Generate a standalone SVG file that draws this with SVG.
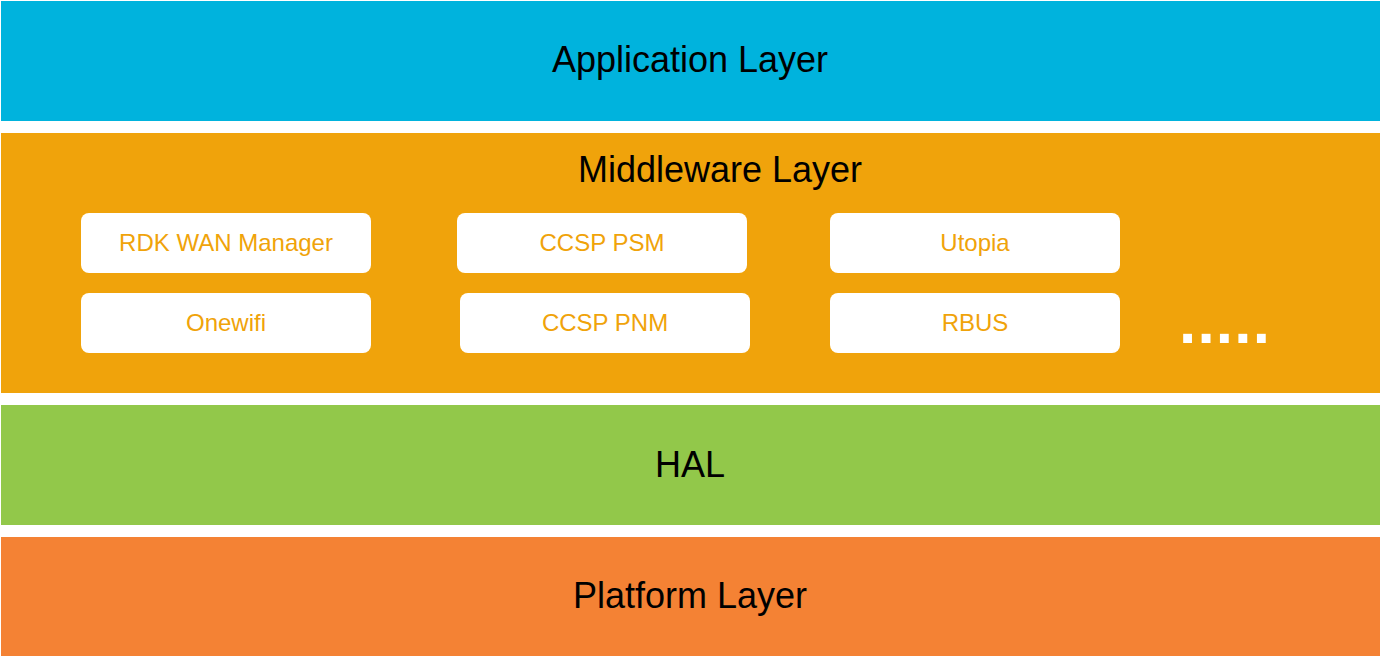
<svg xmlns="http://www.w3.org/2000/svg" width="1380" height="656" viewBox="0 0 1380 656">
<style>
.lbl{font-family:"Liberation Sans",Arial,sans-serif;font-size:36px;fill:#000;text-anchor:middle}
.box{fill:#fff}
.bt{font-family:"Liberation Sans",Arial,sans-serif;font-size:24px;fill:#F0A30A;text-anchor:middle}
</style>
<rect width="1380" height="656" fill="#fff"/>
<g id="app"><rect x="1" y="1" width="1379" height="120" fill="#00B3DD"/><text class="lbl" x="690" y="72">Application Layer</text></g>
<g id="middleware"><rect x="1" y="133" width="1379" height="260" fill="#F0A30B"/><text class="lbl" x="720" y="182">Middleware Layer</text>
<text x="1179" y="343" font-family="Liberation Sans,Arial,sans-serif" font-weight="bold" font-size="62" fill="#fff" letter-spacing="1.2">.....</text></g>
<g id="rdkwan"><rect class="box" x="81" y="213" width="290" height="60" rx="8"/><text class="bt" x="226" y="251">RDK WAN Manager</text></g>
<g id="onewifi"><rect class="box" x="81" y="293" width="290" height="60" rx="8"/><text class="bt" x="226" y="331">Onewifi</text></g>
<g id="psm"><rect class="box" x="457" y="213" width="290" height="60" rx="8"/><text class="bt" x="602" y="251">CCSP PSM</text></g>
<g id="pnm"><rect class="box" x="460" y="293" width="290" height="60" rx="8"/><text class="bt" x="605" y="331">CCSP PNM</text></g>
<g id="utopia"><rect class="box" x="830" y="213" width="290" height="60" rx="8"/><text class="bt" x="975" y="251">Utopia</text></g>
<g id="rbus"><rect class="box" x="830" y="293" width="290" height="60" rx="8"/><text class="bt" x="975" y="331">RBUS</text></g>
<g id="hal"><rect x="1" y="405" width="1379" height="120" fill="#92C84A"/><text class="lbl" x="690" y="477">HAL</text></g>
<g id="platform"><rect x="1" y="537" width="1379" height="119" fill="#F48234"/><text class="lbl" x="690" y="608">Platform Layer</text></g>
<g id="connectors"/>
</svg>
